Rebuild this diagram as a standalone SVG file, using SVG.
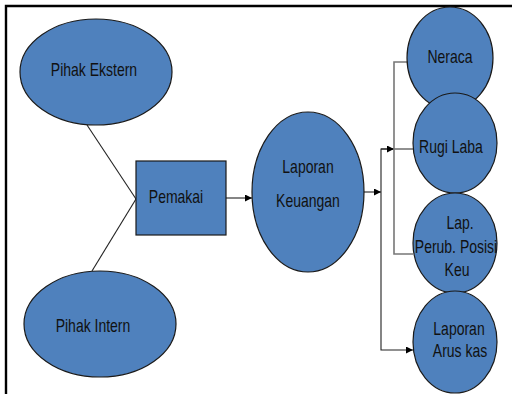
<svg xmlns="http://www.w3.org/2000/svg" width="512" height="394" viewBox="0 0 512 394">
<defs>
<style>
.n{fill:#4F81BD;stroke:#1a1a1a;stroke-width:1.2}
.t{font-family:"Liberation Sans",Arial,sans-serif;font-size:14px;fill:#111;text-anchor:middle}
.c{fill:none;stroke:#222;stroke-width:1.1}
.g{fill:none;stroke:#777;stroke-width:1.6}
</style>
<marker id="ah" viewBox="0 0 8 8" refX="8" refY="4" markerWidth="7" markerHeight="7" markerUnits="userSpaceOnUse" orient="auto">
<path d="M0,0 L8,4 L0,8 z" fill="#000"/>
</marker>
</defs>
<rect width="512" height="394" fill="#fff"/>
<path d="M6,394 V6 H512" fill="none" stroke="#000" stroke-width="2.4"/>
<g id="connectors">
<path class="c" d="M87,125 L136,199"/>
<path class="c" d="M92,271 L136,199"/>
<path class="c" d="M226,198 H252" marker-end="url(#ah)"/>
<path class="c" d="M363,192 H381" marker-end="url(#ah)"/>
<path class="c" d="M413,149 H381 V350 H413" marker-end="url(#ah)"/>
<path class="c" d="M381,149 H394" marker-end="url(#ah)"/>
<path class="g" d="M408,62 H394 V254 H413"/>
</g>
<g id="pihak-ekstern">
<ellipse class="n" cx="96" cy="72" rx="76" ry="53"/>
<text class="t" transform="translate(94,76) scale(1,1.3)">Pihak Ekstern</text>
</g>
<g id="pihak-intern">
<ellipse class="n" cx="100" cy="324" rx="76" ry="53"/>
<text class="t" transform="translate(93,332) scale(1,1.3)">Pihak Intern</text>
</g>
<g id="pemakai">
<rect class="n" x="136" y="161" width="90" height="74"/>
<text class="t" transform="translate(176,203) scale(1,1.3)">Pemakai</text>
</g>
<g id="laporan-keuangan">
<ellipse class="n" cx="308" cy="192" rx="56" ry="80"/>
<text class="t" transform="translate(308,173) scale(1,1.3)">Laporan</text>
<text class="t" transform="translate(308,207) scale(1,1.3)">Keuangan</text>
</g>
<g id="neraca">
<ellipse class="n" cx="450" cy="58" rx="43" ry="51"/>
<text class="t" transform="translate(450,63) scale(1,1.3)">Neraca</text>
</g>
<g id="rugi-laba">
<ellipse class="n" cx="455" cy="143" rx="42" ry="50"/>
<text class="t" transform="translate(451,153) scale(1,1.3)">Rugi Laba</text>
</g>
<g id="lap-perub">
<ellipse class="n" cx="455" cy="243" rx="42" ry="50"/>
<text class="t" transform="translate(460,229) scale(1,1.3)">Lap.</text>
<text class="t" transform="translate(456,253) scale(1,1.3)">Perub. Posisi</text>
<text class="t" transform="translate(457,276) scale(1,1.3)">Keu</text>
</g>
<g id="arus-kas">
<ellipse class="n" cx="455" cy="342" rx="42" ry="51"/>
<text class="t" transform="translate(459,335) scale(1,1.3)">Laporan</text>
<text class="t" transform="translate(460,357) scale(1,1.3)">Arus kas</text>
</g>
</svg>
